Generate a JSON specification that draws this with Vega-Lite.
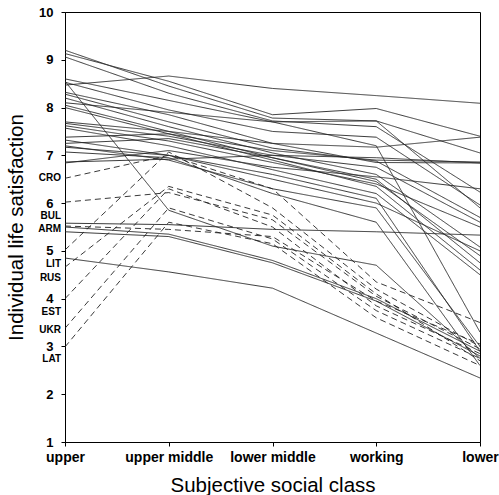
{
  "$schema": "https://vega.github.io/schema/vega-lite/v6.json",
  "autosize": "none",
  "padding": {"left": 65, "top": 12, "right": 19, "bottom": 53},
  "width": 415,
  "height": 430,
  "config": {
    "view": {"stroke": "#000", "strokeWidth": 1},
    "font": "Liberation Sans"
  },
  "datasets": {
    "lines": [
      {"c":"S1","t":"solid","k":"upper","v":9.2},{"c":"S1","t":"solid","k":"upper middle","v":8.45},{"c":"S1","t":"solid","k":"lower middle","v":7.78},{"c":"S1","t":"solid","k":"working","v":7.72},{"c":"S1","t":"solid","k":"lower","v":7.05},
      {"c":"S2","t":"solid","k":"upper","v":9.13},{"c":"S2","t":"solid","k":"upper middle","v":8.55},{"c":"S2","t":"solid","k":"lower middle","v":7.85},{"c":"S2","t":"solid","k":"working","v":7.98},{"c":"S2","t":"solid","k":"lower","v":7.4},
      {"c":"S3","t":"solid","k":"upper","v":9.06},{"c":"S3","t":"solid","k":"upper middle","v":8.3},{"c":"S3","t":"solid","k":"lower middle","v":7.72},{"c":"S3","t":"solid","k":"working","v":7.6},{"c":"S3","t":"solid","k":"lower","v":6.23},
      {"c":"S4","t":"solid","k":"upper","v":8.47},{"c":"S4","t":"solid","k":"upper middle","v":8.66},{"c":"S4","t":"solid","k":"lower middle","v":8.4},{"c":"S4","t":"solid","k":"working","v":8.25},{"c":"S4","t":"solid","k":"lower","v":8.09},
      {"c":"S5","t":"solid","k":"upper","v":8.6},{"c":"S5","t":"solid","k":"upper middle","v":8.15},{"c":"S5","t":"solid","k":"lower middle","v":7.7},{"c":"S5","t":"solid","k":"working","v":7.72},{"c":"S5","t":"solid","k":"lower","v":5.9},
      {"c":"S6","t":"solid","k":"upper","v":8.55},{"c":"S6","t":"solid","k":"upper middle","v":5.85},{"c":"S6","t":"solid","k":"lower middle","v":5.1},{"c":"S6","t":"solid","k":"working","v":4.7},{"c":"S6","t":"solid","k":"lower","v":2.75},
      {"c":"S7","t":"solid","k":"upper","v":8.53},{"c":"S7","t":"solid","k":"upper middle","v":7.95},{"c":"S7","t":"solid","k":"lower middle","v":7.5},{"c":"S7","t":"solid","k":"working","v":7.38},{"c":"S7","t":"solid","k":"lower","v":5.96},
      {"c":"S8","t":"solid","k":"upper","v":8.32},{"c":"S8","t":"solid","k":"upper middle","v":7.85},{"c":"S8","t":"solid","k":"lower middle","v":7.25},{"c":"S8","t":"solid","k":"working","v":7.17},{"c":"S8","t":"solid","k":"lower","v":7.38},
      {"c":"S9","t":"solid","k":"upper","v":8.28},{"c":"S9","t":"solid","k":"upper middle","v":7.7},{"c":"S9","t":"solid","k":"lower middle","v":7.15},{"c":"S9","t":"solid","k":"working","v":6.88},{"c":"S9","t":"solid","k":"lower","v":5.7},
      {"c":"S10","t":"solid","k":"upper","v":8.2},{"c":"S10","t":"solid","k":"upper middle","v":7.6},{"c":"S10","t":"solid","k":"lower middle","v":7.05},{"c":"S10","t":"solid","k":"working","v":6.6},{"c":"S10","t":"solid","k":"lower","v":5.08},
      {"c":"S11","t":"solid","k":"upper","v":8.1},{"c":"S11","t":"solid","k":"upper middle","v":7.9},{"c":"S11","t":"solid","k":"lower middle","v":7.7},{"c":"S11","t":"solid","k":"working","v":7.2},{"c":"S11","t":"solid","k":"lower","v":3.3},
      {"c":"S12","t":"solid","k":"upper","v":8.05},{"c":"S12","t":"solid","k":"upper middle","v":7.5},{"c":"S12","t":"solid","k":"lower middle","v":6.95},{"c":"S12","t":"solid","k":"working","v":6.5},{"c":"S12","t":"solid","k":"lower","v":4.75},
      {"c":"S13","t":"solid","k":"upper","v":8.0},{"c":"S13","t":"solid","k":"upper middle","v":7.45},{"c":"S13","t":"solid","k":"lower middle","v":6.9},{"c":"S13","t":"solid","k":"working","v":6.35},{"c":"S13","t":"solid","k":"lower","v":4.6},
      {"c":"S14","t":"solid","k":"upper","v":7.7},{"c":"S14","t":"solid","k":"upper middle","v":7.5},{"c":"S14","t":"solid","k":"lower middle","v":7.25},{"c":"S14","t":"solid","k":"working","v":6.85},{"c":"S14","t":"solid","k":"lower","v":6.84},
      {"c":"S15","t":"solid","k":"upper","v":7.67},{"c":"S15","t":"solid","k":"upper middle","v":7.4},{"c":"S15","t":"solid","k":"lower middle","v":7.0},{"c":"S15","t":"solid","k":"working","v":6.75},{"c":"S15","t":"solid","k":"lower","v":5.6},
      {"c":"S16","t":"solid","k":"upper","v":7.62},{"c":"S16","t":"solid","k":"upper middle","v":7.3},{"c":"S16","t":"solid","k":"lower middle","v":6.85},{"c":"S16","t":"solid","k":"working","v":6.4},{"c":"S16","t":"solid","k":"lower","v":5.5},
      {"c":"S17","t":"solid","k":"upper","v":7.57},{"c":"S17","t":"solid","k":"upper middle","v":7.2},{"c":"S17","t":"solid","k":"lower middle","v":6.7},{"c":"S17","t":"solid","k":"working","v":6.2},{"c":"S17","t":"solid","k":"lower","v":4.5},
      {"c":"S18","t":"solid","k":"upper","v":7.38},{"c":"S18","t":"solid","k":"upper middle","v":7.45},{"c":"S18","t":"solid","k":"lower middle","v":7.1},{"c":"S18","t":"solid","k":"working","v":6.9},{"c":"S18","t":"solid","k":"lower","v":6.86},
      {"c":"S19","t":"solid","k":"upper","v":7.32},{"c":"S19","t":"solid","k":"upper middle","v":7.0},{"c":"S19","t":"solid","k":"lower middle","v":6.5},{"c":"S19","t":"solid","k":"working","v":6.0},{"c":"S19","t":"solid","k":"lower","v":5.0},
      {"c":"S20","t":"solid","k":"upper","v":7.25},{"c":"S20","t":"solid","k":"upper middle","v":7.35},{"c":"S20","t":"solid","k":"lower middle","v":6.95},{"c":"S20","t":"solid","k":"working","v":6.45},{"c":"S20","t":"solid","k":"lower","v":4.9},
      {"c":"S21","t":"solid","k":"upper","v":7.2},{"c":"S21","t":"solid","k":"upper middle","v":6.9},{"c":"S21","t":"solid","k":"lower middle","v":6.3},{"c":"S21","t":"solid","k":"working","v":5.9},{"c":"S21","t":"solid","k":"lower","v":3.0},
      {"c":"S22","t":"solid","k":"upper","v":7.17},{"c":"S22","t":"solid","k":"upper middle","v":7.0},{"c":"S22","t":"solid","k":"lower middle","v":6.6},{"c":"S22","t":"solid","k":"working","v":6.1},{"c":"S22","t":"solid","k":"lower","v":2.9},
      {"c":"S23","t":"solid","k":"upper","v":7.07},{"c":"S23","t":"solid","k":"upper middle","v":6.95},{"c":"S23","t":"solid","k":"lower middle","v":6.2},{"c":"S23","t":"solid","k":"working","v":5.6},{"c":"S23","t":"solid","k":"lower","v":2.6},
      {"c":"S24","t":"solid","k":"upper","v":6.86},{"c":"S24","t":"solid","k":"upper middle","v":6.92},{"c":"S24","t":"solid","k":"lower middle","v":7.0},{"c":"S24","t":"solid","k":"working","v":6.95},{"c":"S24","t":"solid","k":"lower","v":6.84},
      {"c":"S25","t":"solid","k":"upper","v":6.84},{"c":"S25","t":"solid","k":"upper middle","v":7.1},{"c":"S25","t":"solid","k":"lower middle","v":6.75},{"c":"S25","t":"solid","k":"working","v":6.55},{"c":"S25","t":"solid","k":"lower","v":6.3},
      {"c":"S26","t":"solid","k":"upper","v":5.58},{"c":"S26","t":"solid","k":"upper middle","v":5.55},{"c":"S26","t":"solid","k":"lower middle","v":5.45},{"c":"S26","t":"solid","k":"working","v":5.4},{"c":"S26","t":"solid","k":"lower","v":5.33},
      {"c":"S27","t":"solid","k":"upper","v":5.5},{"c":"S27","t":"solid","k":"upper middle","v":5.35},{"c":"S27","t":"solid","k":"lower middle","v":4.8},{"c":"S27","t":"solid","k":"working","v":4.0},{"c":"S27","t":"solid","k":"lower","v":2.9},
      {"c":"S28","t":"solid","k":"upper","v":5.4},{"c":"S28","t":"solid","k":"upper middle","v":5.3},{"c":"S28","t":"solid","k":"lower middle","v":4.75},{"c":"S28","t":"solid","k":"working","v":3.95},{"c":"S28","t":"solid","k":"lower","v":2.8},
      {"c":"S29","t":"solid","k":"upper","v":4.85},{"c":"S29","t":"solid","k":"upper middle","v":4.56},{"c":"S29","t":"solid","k":"lower middle","v":4.22},{"c":"S29","t":"solid","k":"working","v":3.28},{"c":"S29","t":"solid","k":"lower","v":2.34},
      {"c":"CRO","t":"dashed","k":"upper","v":6.52},{"c":"CRO","t":"dashed","k":"upper middle","v":7.0},{"c":"CRO","t":"dashed","k":"lower middle","v":6.3},{"c":"CRO","t":"dashed","k":"working","v":4.35},{"c":"CRO","t":"dashed","k":"lower","v":3.5},
      {"c":"LIT","t":"dashed","k":"upper","v":5.02},{"c":"LIT","t":"dashed","k":"upper middle","v":7.07},{"c":"LIT","t":"dashed","k":"lower middle","v":5.9},{"c":"LIT","t":"dashed","k":"working","v":4.2},{"c":"LIT","t":"dashed","k":"lower","v":3.0},
      {"c":"BUL","t":"dashed","k":"upper","v":6.02},{"c":"BUL","t":"dashed","k":"upper middle","v":6.22},{"c":"BUL","t":"dashed","k":"lower middle","v":5.65},{"c":"BUL","t":"dashed","k":"working","v":4.05},{"c":"BUL","t":"dashed","k":"lower","v":2.95},
      {"c":"RUS","t":"dashed","k":"upper","v":4.66},{"c":"RUS","t":"dashed","k":"upper middle","v":6.35},{"c":"RUS","t":"dashed","k":"lower middle","v":5.75},{"c":"RUS","t":"dashed","k":"working","v":4.1},{"c":"RUS","t":"dashed","k":"lower","v":2.7},
      {"c":"EST","t":"dashed","k":"upper","v":4.0},{"c":"EST","t":"dashed","k":"upper middle","v":6.3},{"c":"EST","t":"dashed","k":"lower middle","v":5.5},{"c":"EST","t":"dashed","k":"working","v":3.85},{"c":"EST","t":"dashed","k":"lower","v":2.85},
      {"c":"UKR","t":"dashed","k":"upper","v":3.38},{"c":"UKR","t":"dashed","k":"upper middle","v":5.9},{"c":"UKR","t":"dashed","k":"lower middle","v":5.25},{"c":"UKR","t":"dashed","k":"working","v":3.75},{"c":"UKR","t":"dashed","k":"lower","v":2.75},
      {"c":"LAT","t":"dashed","k":"upper","v":2.99},{"c":"LAT","t":"dashed","k":"upper middle","v":5.6},{"c":"LAT","t":"dashed","k":"lower middle","v":5.15},{"c":"LAT","t":"dashed","k":"working","v":3.6},{"c":"LAT","t":"dashed","k":"lower","v":2.6},
      {"c":"ARM","t":"dashed","k":"upper","v":5.52},{"c":"ARM","t":"dashed","k":"upper middle","v":5.45},{"c":"ARM","t":"dashed","k":"lower middle","v":5.3},{"c":"ARM","t":"dashed","k":"working","v":3.95},{"c":"ARM","t":"dashed","k":"lower","v":3.05}
    ],
    "labels": [
      {"lab":"CRO","k":"upper","v":6.52},
      {"lab":"BUL","k":"upper","v":5.73},
      {"lab":"ARM","k":"upper","v":5.46},
      {"lab":"LIT","k":"upper","v":4.73},
      {"lab":"RUS","k":"upper","v":4.43},
      {"lab":"EST","k":"upper","v":3.73},
      {"lab":"UKR","k":"upper","v":3.34},
      {"lab":"LAT","k":"upper","v":2.74}
    ]
  },
  "layer": [
    {
      "data": {"name": "lines"},
      "mark": {"type": "line", "color": "#222", "strokeWidth": 0.9, "clip": true},
      "encoding": {
        "x": {
          "field": "k", "type": "ordinal",
          "sort": ["upper", "upper middle", "lower middle", "working", "lower"],
          "scale": {"type": "point", "padding": 0},
          "axis": {
            "title": "Subjective social class",
            "titleFont": "Liberation Sans", "titleFontSize": 20.5, "titleFontWeight": "normal", "titleColor": "#000",
            "titlePadding": 11,
            "labelFont": "Liberation Sans", "labelFontSize": 14, "labelFontWeight": "bold", "labelColor": "#000",
            "labelAngle": 0, "labelPadding": 4, "tickSize": 4, "tickColor": "#000", "domainColor": "#000",
            "labelOverlap": false
          }
        },
        "y": {
          "field": "v", "type": "quantitative",
          "scale": {"domain": [1, 10], "nice": false, "zero": false},
          "axis": {
            "title": "Individual life satisfaction",
            "titleFont": "Liberation Sans", "titleFontSize": 20.5, "titleFontWeight": "normal", "titleColor": "#000",
            "titlePadding": 12,
            "values": [1,2,3,4,5,6,7,8,9,10],
            "labelFont": "Liberation Sans", "labelFontSize": 13, "labelFontWeight": "bold", "labelColor": "#000",
            "labelPadding": 8, "tickSize": 4, "tickColor": "#000", "domainColor": "#000", "grid": false
          }
        },
        "detail": {"field": "c"},
        "strokeDash": {
          "field": "t", "type": "nominal",
          "scale": {"domain": ["solid", "dashed"], "range": [[1, 0], [6, 4]]},
          "legend": null
        }
      }
    },
    {
      "data": {"name": "labels"},
      "mark": {"type": "text", "align": "right", "baseline": "middle", "dx": -4, "font": "Liberation Sans", "fontSize": 10, "fontWeight": "bold", "color": "#000"},
      "encoding": {
        "x": {"field": "k", "type": "ordinal", "sort": ["upper", "upper middle", "lower middle", "working", "lower"]},
        "y": {"field": "v", "type": "quantitative"},
        "text": {"field": "lab"}
      }
    }
  ]
}
